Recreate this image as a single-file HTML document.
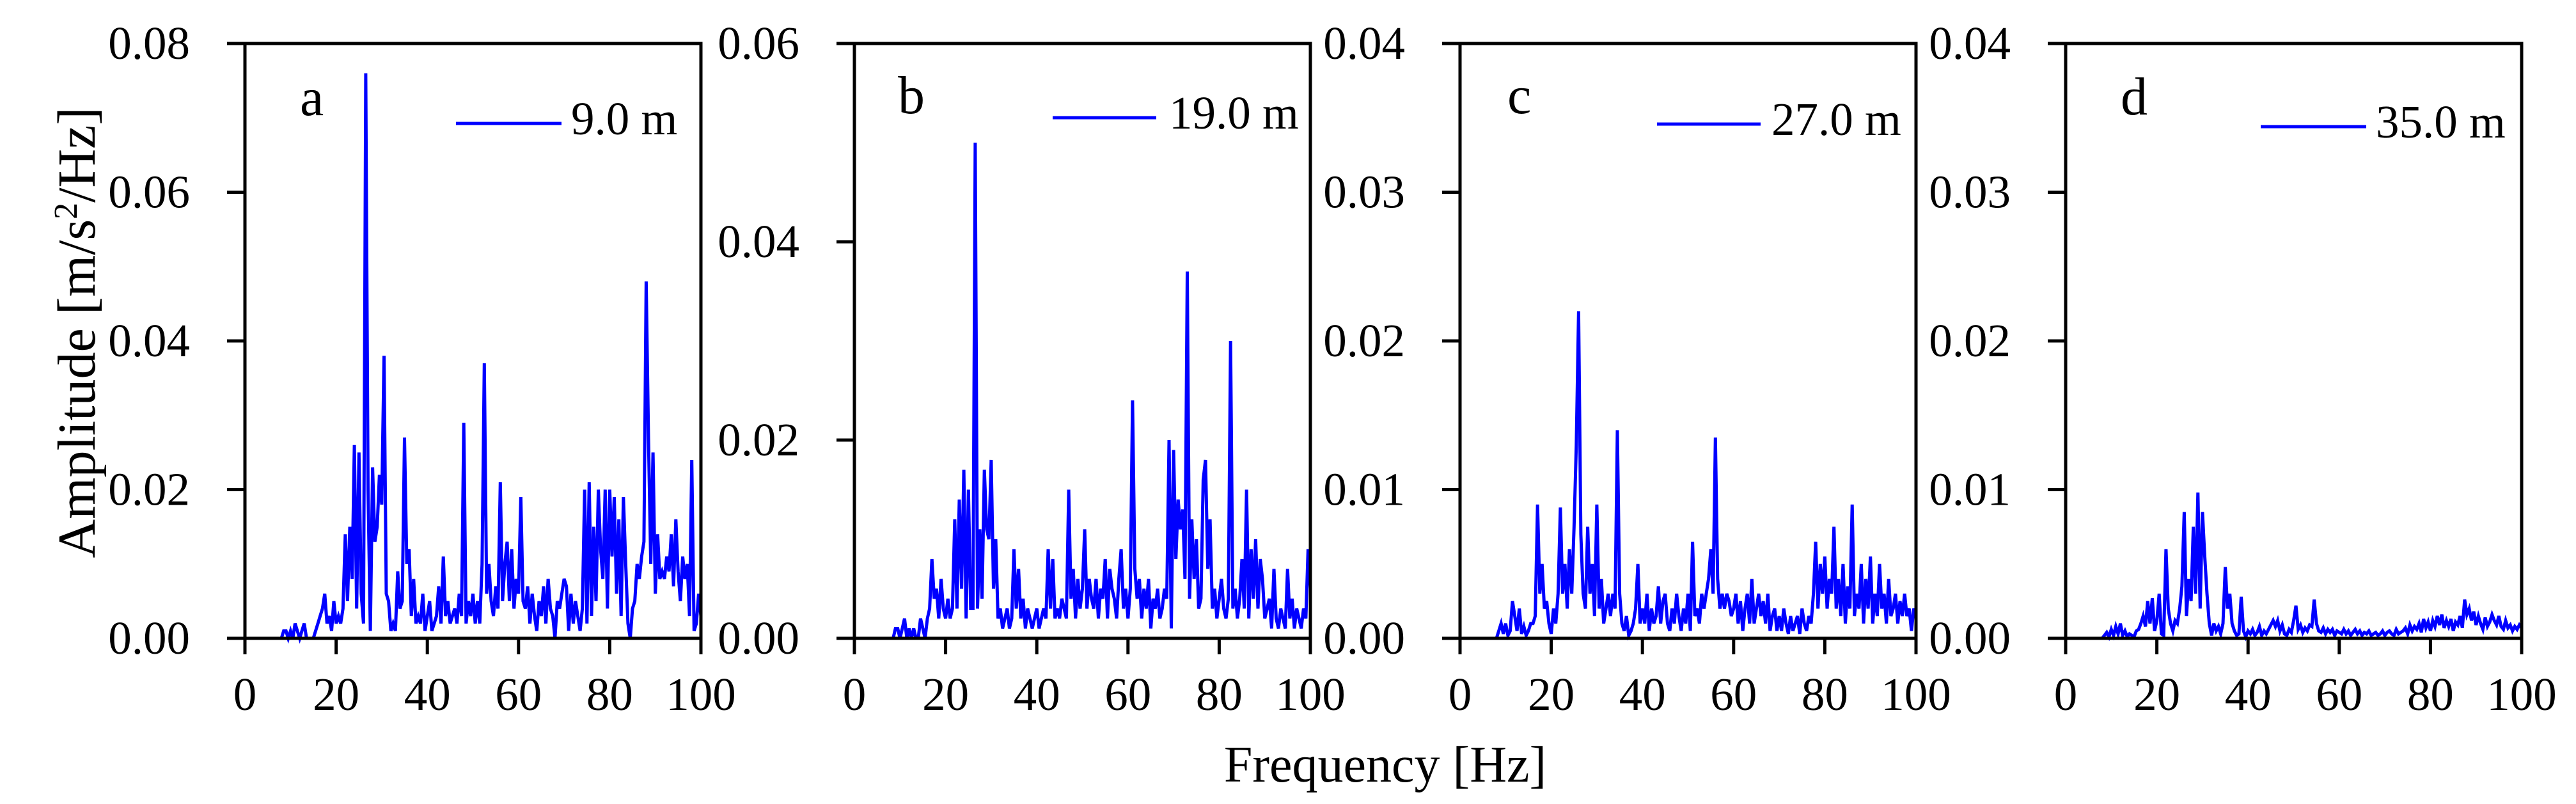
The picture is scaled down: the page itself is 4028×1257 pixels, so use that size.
<!DOCTYPE html>
<html><head><meta charset="utf-8"><style>
html,body{margin:0;padding:0;background:#fff;}
svg{display:block;}
text{font-family:"Liberation Serif",serif;fill:#000;}
</style></head><body>
<svg id="chart" width="4028" height="1257" viewBox="0 0 4028 1257" xmlns="http://www.w3.org/2000/svg">
<text x="2166" y="1222" font-size="80" text-anchor="middle">Frequency [Hz]</text>
<text transform="translate(148,520) rotate(-90)" font-size="84" text-anchor="middle">Amplitude [m/s<tspan baseline-shift="super" font-size="52">2</tspan>/Hz]</text>
</svg>
<script>
// frequency step 0.5 Hz, 0..100 Hz; amplitude values in units of 1e-3 m/s2/Hz
const freqStep = 0.5;
const panelLabels = ['a','b','c','d'];
const legendLabels = ['9.0 m','19.0 m','27.0 m','35.0 m'];
const yMaxes = [0.08,0.06,0.04,0.04];
const yTickSteps = [0.02,0.02,0.01,0.01];
const xTicks = [0,20,40,60,80,100];
const seriesA = [0,0,0,0,0,0,0,0,0,0,0,0,0,0,0,0,
0,1,1,0,1,0,2,1,0,1,2,0,0,0,0,1,
2,3,4,6,2,3,1,5,2,3,2,4,
14,5,15,8,26,4,25,6,2,76,20,1,
23,13,15,22,18,38,6,5,1,2,1,9,
4,5,27,10,12,3,8,2,3,2,6,1,
3,5,1,2,3,7,2,11,3,5,2,3,
4,2,6,3,29,2,5,3,6,2,5,2,
10,37,6,10,5,3,7,4,21,5,10,13,
5,12,4,8,6,19,5,4,7,2,6,3,
1,5,3,7,2,8,4,3,0,5,4,6,
8,7,1,6,2,5,3,1,4,20,2,21,
3,15,5,20,12,8,20,4,20,11,19,6,
16,3,19,10,2,0,4,5,10,8,11,13,
48,27,10,25,6,14,8,9,8,11,9,14,
7,16,9,5,11,8,10,3,24,1,2,6,
3];
const seriesB = [0,0,0,0,0,0,0,0,0,0,0,0,0,0,0,0,
0,0,1,1,0,1,2,0,1,0,1,0,0,2,1,0,
2,3,8,4,5,2,6,3,2,4,2,3,
12,3,14,5,17,2,15,3,3,50,3,11,
4,17,11,10,18,5,10,2,3,1,2,3,
1,2,9,3,7,2,4,1,3,2,1,2,
3,1,2,3,2,9,3,8,2,3,2,4,
3,2,15,4,7,2,6,3,5,11,3,6,
4,3,6,2,5,4,8,2,7,5,4,2,
6,9,3,5,2,5,24,7,4,6,2,5,
3,6,1,4,3,5,2,3,5,4,20,1,
19,8,14,11,13,6,37,4,12,6,10,3,
4,16,18,7,12,3,5,2,4,6,3,2,
4,30,3,5,2,4,8,3,15,2,9,4,
10,3,8,6,2,3,4,1,7,2,1,3,
2,1,7,2,4,1,3,2,1,3,2,9,
5];
const seriesC = [0,0,0,0,0,0,0,0,0,0,0,0,0,0,0,0,
0,0.5,1,0.3,1,0.2,0.5,2.5,1.5,0.5,2,0.3,0.8,0.2,0.5,1,
1,1.5,9,3,5,2,2.5,1,0.3,2,1,3,
8.8,3,5,2,6,3,7.5,13,22,7,3,2,
7.5,3,5,1.5,9,2,4,1,2,3,1.5,3,
2,14,3,1,0.5,1.5,0.2,0.5,1,2,5,1,
2,1,3,0.5,2,1,1.5,3.5,1,2.5,3,1,
0.5,2,1,3,1.5,0.5,2,1,3,0.5,6.5,1.5,
2,1,3,2,3,4,6,3,13.5,4,2,3,
2,3,2.5,1.5,2,3,1,2.5,0.5,2,3,1,
4,1,2,3,1.5,2.5,1,3,0.5,1.5,2,0.5,
1.5,0.5,2,1,0.3,1.5,0.5,1,1.5,0.3,2,1,
0.5,1.5,1,3,6.5,2,5,3,5.5,2,4,3,
7.5,2,4,1.5,5,1,3.5,2,9,1.5,3,2,
5,1,4,2,5.5,1,3,1.5,5,2,3,1,
4,1.5,2,3,1,2.5,1.5,3,1.5,2,0.5,2,
1.5];
const seriesD = [0,0,0,0,0,0,0,0,0,0,0,0,0,0,0,0,
0,0.2,0.4,0.1,0.6,0.2,0.8,0.3,1,0.2,0.5,0.1,0.3,0.2,0.1,0.5,
0.6,1,1.5,0.8,2.5,1,2.7,0.5,1.2,3,0.3,0.2,
6,2,1,0.5,1.2,1,2,3.5,8.5,1.5,4,2.5,
7.5,3,9.8,2,8.5,5.5,3,1,0.2,1,0.5,0.8,
0.3,1,4.8,2,3,1,0.5,0.2,0.3,2.8,0.5,0.1,
0.5,0.3,0.6,0.2,0.4,0.8,0.2,0.5,0.3,0.6,0.9,1.2,
0.8,1.2,0.5,0.9,0.3,0.2,0.6,0.4,1.2,2.2,0.6,0.9,
0.4,0.7,0.5,0.9,0.8,2.6,1,0.5,0.4,0.7,0.3,0.6,
0.4,0.6,0.2,0.5,0.4,0.3,0.6,0.3,0.5,0.2,0.4,0.6,
0.3,0.5,0.2,0.4,0.3,0.5,0.2,0.3,0.4,0.2,0.3,0.5,
0.2,0.4,0.5,0.3,0.2,0.6,0.3,0.4,0.5,0.7,0.3,0.9,
0.5,0.8,0.6,1,0.4,1.3,0.7,1.1,0.5,1.2,0.8,1.5,
0.9,1.6,0.7,1.2,0.8,1.3,0.5,1.1,0.9,1.5,0.7,2.6,
1.6,2,1.2,1.8,0.9,1.5,1,0.6,1.4,0.8,1.1,1.6,
1.2,0.9,1.5,0.8,0.6,1.2,0.7,0.9,0.5,0.8,0.6,0.9,
0.7];
const allSeries = [seriesA, seriesB, seriesC, seriesD];

const NS = 'http://www.w3.org/2000/svg';
const svg = document.getElementById('chart');
const panelX0 = [383, 1336, 2283, 3230];
const panelW = 713, yTop = 68, yBot = 998;
const legendY = [193, 184, 194, 198];
const labelPos = [[86,180],[68,177],[74,177],[86,179]];
const legendOff = [[330,495,510],[310,472,492],[308,470,487],[305,470,485]];

function mk(tag, attrs, parent) {
  const e = document.createElementNS(NS, tag);
  for (const k in attrs) e.setAttribute(k, attrs[k]);
  (parent || svg).appendChild(e);
  return e;
}

allSeries.forEach((data, p) => {
  const x0 = panelX0[p];
  const xs = v => x0 + v / 100 * panelW;
  const ys = v => yBot - v / yMaxes[p] * (yBot - yTop);
  const g = mk('g', {});
  
  

  let d = '';
  data.forEach((v, i) => {
    d += (i ? 'L' : 'M') + xs(i * freqStep).toFixed(1) + ',' + ys(v / 1000).toFixed(1);
  });
  const path = mk('path', {d: d, fill: 'none', stroke: '#0000ff', 'stroke-width': 5, 'stroke-linejoin': 'miter'}, g);
  
  

  const frame = mk('rect', {x: x0, y: yTop, width: panelW, height: yBot - yTop, fill: 'none', stroke: '#000', 'stroke-width': 5}, g);
  
  

  const n = Math.round(yMaxes[p] / yTickSteps[p]);
  for (let k = 0; k <= n; k++) {
    const v = k * yTickSteps[p];
    const y = ys(v);
    mk('line', {x1: x0 - 28, x2: x0, y1: y, y2: y, stroke: '#000', 'stroke-width': 5}, g);
    const t = mk('text', {x: x0 - 86, y: y + 24, 'font-size': 73, 'text-anchor': 'end'}, g);
    t.textContent = v.toFixed(2);
    
    
  }
  xTicks.forEach(v => {
    const x = xs(v);
    mk('line', {x1: x, x2: x, y1: yBot, y2: yBot + 25, stroke: '#000', 'stroke-width': 5}, g);
    const t = mk('text', {x: x, y: 1110, 'font-size': 73, 'text-anchor': 'middle'}, g);
    t.textContent = String(v);
    
    
  });

  const pl = mk('text', {x: x0 + labelPos[p][0], y: labelPos[p][1], 'font-size': 84}, g);
  pl.textContent = panelLabels[p];
  
  

  const lg = mk('g', {}, g);
  
  
  const lo = legendOff[p];
  mk('line', {x1: x0 + lo[0], x2: x0 + lo[1], y1: legendY[p], y2: legendY[p], stroke: '#0000ff', 'stroke-width': 5}, lg);
  const lt = mk('text', {x: x0 + lo[2], y: legendY[p] + 17, 'font-size': 73}, lg);
  lt.textContent = legendLabels[p];
});
</script>
</body></html>
